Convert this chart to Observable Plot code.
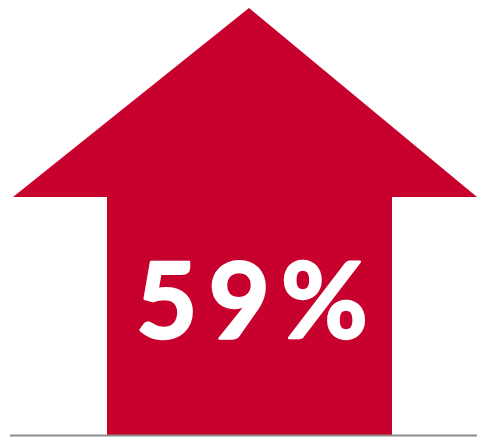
<!DOCTYPE html>
<html>
<head>
<meta charset="utf-8">
<script src="https://cdn.jsdelivr.net/npm/d3@7"></script>
<script src="https://cdn.jsdelivr.net/npm/@observablehq/plot@0.6"></script>
<style>
  html, body { margin: 0; padding: 0; background: #fff; }
  #chart text { letter-spacing: 11px; }
</style>
</head>
<body>
<div id="chart"></div>
<script>
// Value shown in the arrow
const label = "59%";
// Arrow outline, in chart units (0 = baseline, up is positive)
const headX = [13, 249, 477];
const headBase = [238, 238, 238];
const headTop = [238, 427, 238];
const shaftX = [107, 392];
const shaftY = [0, 238];
const baselineX = [10, 477];
const labelPos = [{x: 257, y: 131, text: label}];

const red = "#c8002d";

const chart = Plot.plot({
  width: 477,
  height: 437,
  margin: 0,
  x: {domain: [0, 477], range: [0, 477], axis: null},
  y: {domain: [-2, 435], range: [437, 0], axis: null},
  marks: [
    Plot.areaY(headX.map((x, i) => ({x, y1: headBase[i], y2: headTop[i]})), {
      x: "x", y1: "y1", y2: "y2", fill: red, curve: "linear"
    }),
    Plot.rect([{x1: shaftX[0], x2: shaftX[1], y1: shaftY[0], y2: shaftY[1] + 1}], {
      x1: "x1", x2: "x2", y1: "y1", y2: "y2", fill: red
    }),
    Plot.ruleY([{y: 0, x1: baselineX[0], x2: baselineX[1]}], {y: "y", x1: "x1", x2: "x2", stroke: "#8c8c8c", strokeWidth: 2}),
    Plot.text(labelPos, {
      x: "x", y: "y", text: "text", fill: "white",
      stroke: "white", strokeWidth: 2.5,
      fontSize: 106, fontWeight: "bold", fontFamily: "Lato",
      textAnchor: "middle", lineAnchor: "middle"
    })
  ]
});
document.getElementById("chart").appendChild(chart);
</script>
</body>
</html>
